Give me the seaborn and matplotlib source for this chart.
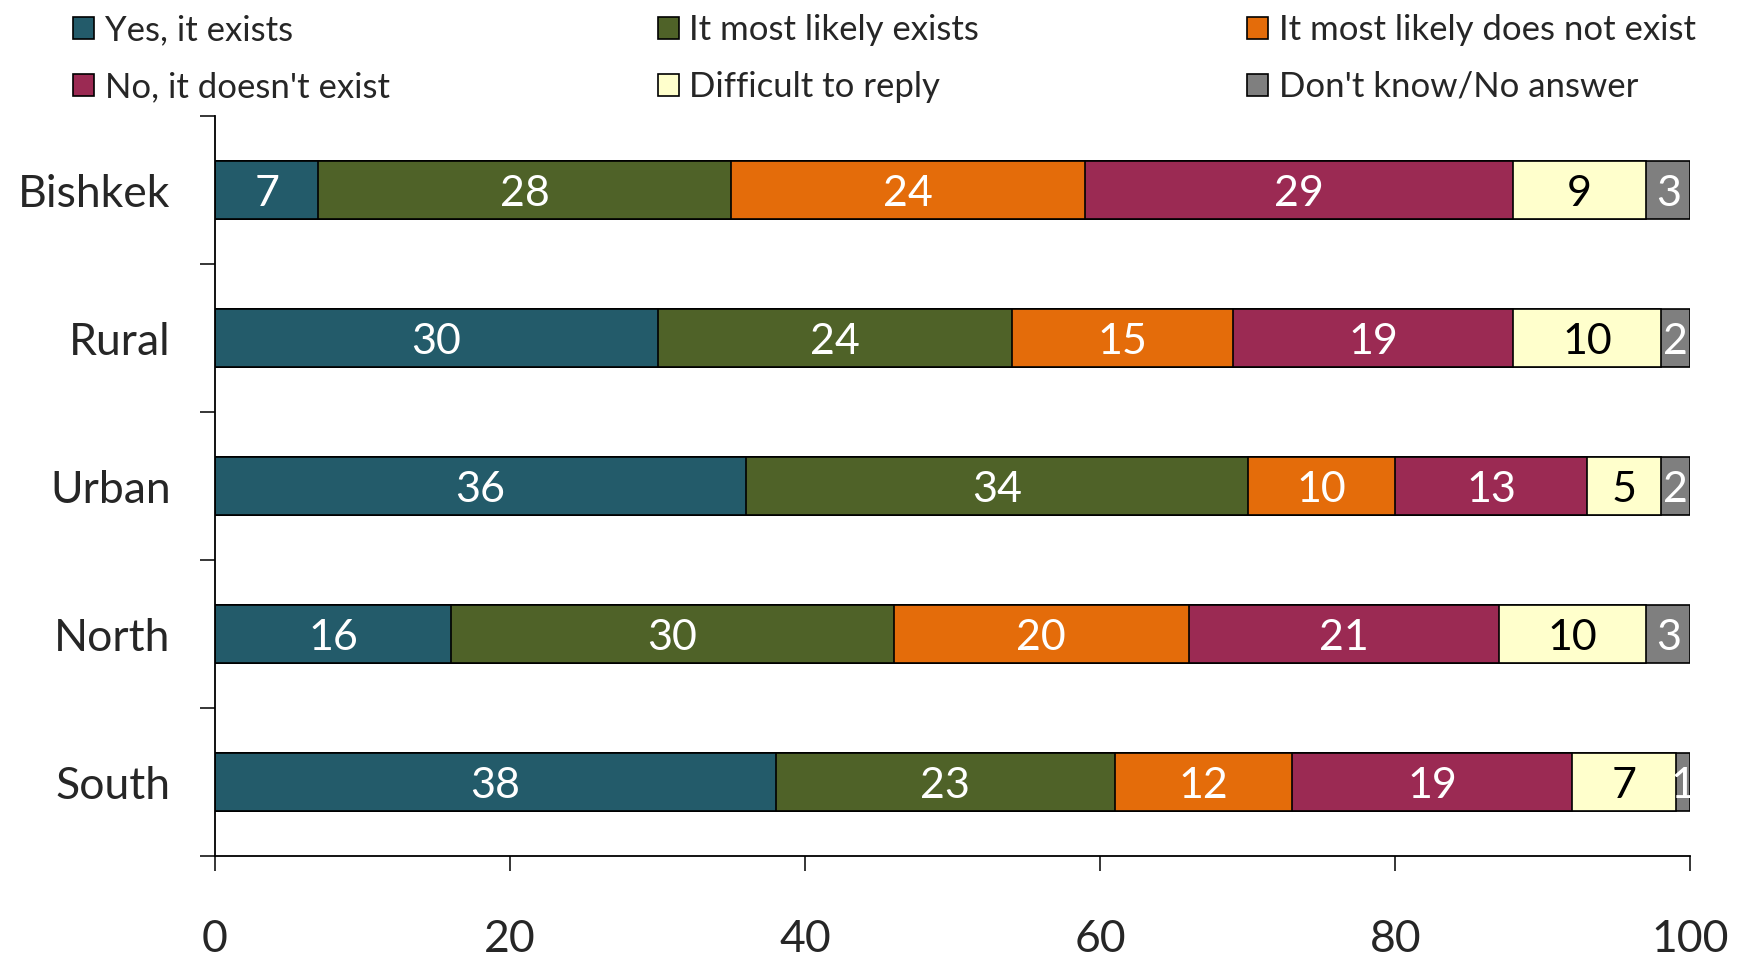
import seaborn as sns
import pandas as pd
import matplotlib.pyplot as plt
import numpy as np

# Data
regions = ["Bishkek", "Rural", "Urban", "North", "South"]
answers = ["Yes, it exists", "It most likely exists", "It most likely does not exist",
           "No, it doesn't exist", "Difficult to reply", "Don't know/No answer"]
yes_exists = [7, 30, 36, 16, 38]
likely_exists = [28, 24, 34, 30, 23]
likely_not = [24, 15, 10, 20, 12]
no_exists = [29, 19, 13, 21, 19]
difficult = [9, 10, 5, 10, 7]
dont_know = [3, 2, 2, 3, 1]
x_ticks = [0, 20, 40, 60, 80, 100]

colors = ["#235B6A", "#4F6228", "#E46C0A", "#9B2A53", "#FFFFCC", "#7F7F7F"]
text_colors = ["white", "white", "white", "white", "black", "white"]

series = [yes_exists, likely_exists, likely_not, no_exists, difficult, dont_know]
df = pd.DataFrame({a: s for a, s in zip(answers, series)}, index=regions)
cum = df.cumsum(axis=1)

sns.set_style("white")
plt.rcParams["font.family"] = ["Lato", "DejaVu Sans"]

fig = plt.figure(figsize=(17.48, 9.59), dpi=100)
ax = fig.add_axes([0.123, 0.1074, 0.844, 0.7716])

# stacked bars: draw cumulative totals from the last series to the first
for i in range(len(answers) - 1, -1, -1):
    d = pd.DataFrame({"region": regions, "value": cum[answers[i]].values})
    sns.barplot(data=d, x="value", y="region", orient="h", color=colors[i],
                width=0.39, edgecolor="black", linewidth=1.2, saturation=1,
                ax=ax, label=answers[i])

# value labels in segment centres
for i, a in enumerate(answers):
    for j, r in enumerate(regions):
        v = df.loc[r, a]
        ax.text(cum.loc[r, a] - v / 2, j + 0.03, str(v), ha="center", va="center",
                color=text_colors[i], fontsize=31)

ax.set_xlim(0, 100)
ax.set_ylim(len(regions) - 0.5, -0.5)
ax.set_xticks(x_ticks)
ax.set_xlabel("")
ax.set_ylabel("")
ax.tick_params(axis="x", labelsize=32, length=11, width=1.3, pad=34, direction="out", bottom=True)
ax.tick_params(axis="y", which="major", labelsize=32, length=0, pad=32)
ax.set_yticks(np.arange(-0.5, len(regions)), minor=True)
ax.tick_params(axis="y", which="minor", length=11, width=1.3, direction="out", left=True)
for s in ["top", "right"]:
    ax.spines[s].set_visible(False)
for s in ["left", "bottom"]:
    ax.spines[s].set_color("black")
    ax.spines[s].set_linewidth(1.3)

# legend in 2 rows, filled row by row
handles, labels = ax.get_legend_handles_labels()
if ax.get_legend() is not None:
    ax.get_legend().remove()
lookup = dict(zip(labels, handles))
order = [answers[0], answers[3], answers[1], answers[4], answers[2], answers[5]]
fig.legend([lookup[o] for o in order], order, ncol=3, mode="expand",
           loc="upper left", bbox_to_anchor=(0.034, 1.0, 0.944, 0.0),
           frameon=False, fontsize=25, handlelength=0.6, handleheight=0.6,
           handletextpad=0.3, labelspacing=0.72, borderaxespad=0.0)

fig.savefig("out.png", dpi=100)
